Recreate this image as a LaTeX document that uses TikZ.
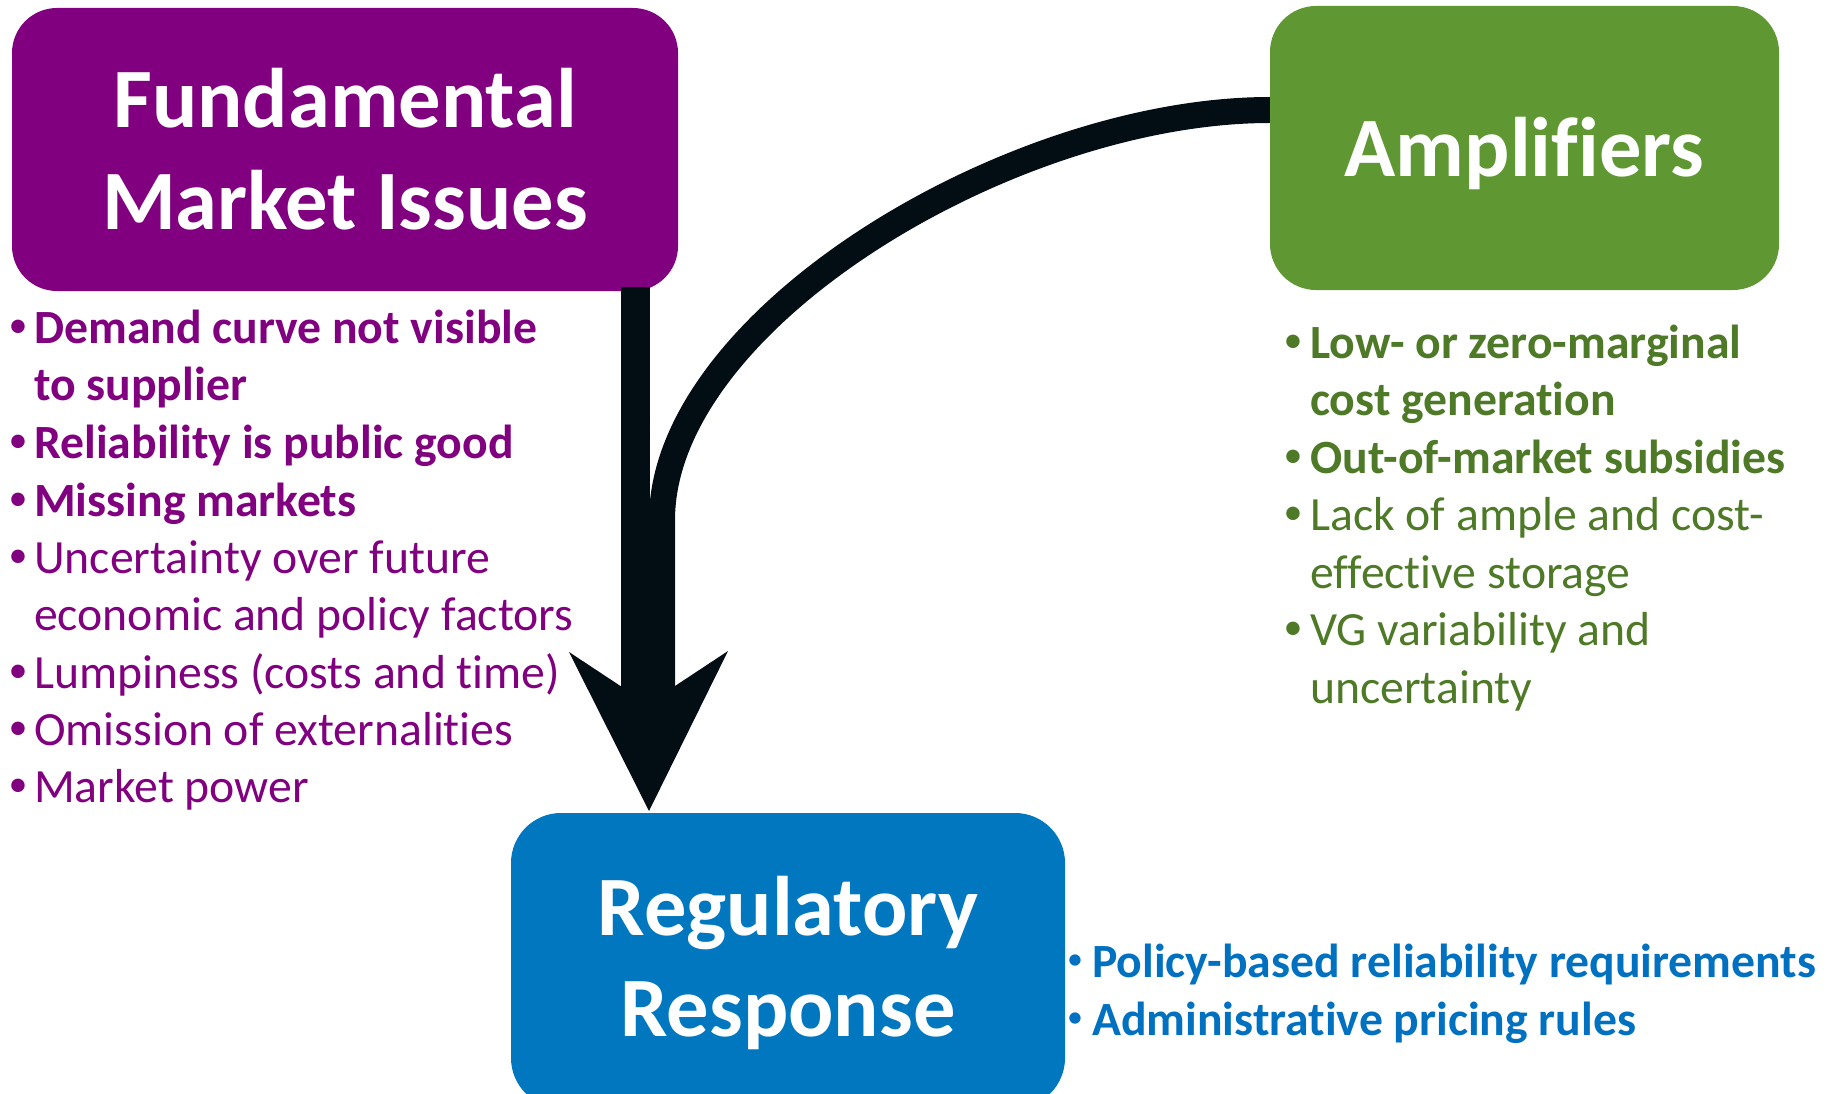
\documentclass[tikz,border=0pt]{standalone}
\usepackage{fontspec}
\setmainfont{Carlito}[Ligatures={NoCommon}]
\definecolor{fmiPurple}{HTML}{800080}
\definecolor{ampGreen}{HTML}{5F9733}
\definecolor{ampText}{HTML}{4E7A28}
\definecolor{regBlue}{HTML}{0077BE}
\definecolor{regText}{HTML}{0070C0}
\definecolor{arrowInk}{HTML}{020D14}
\begin{document}
\begin{tikzpicture}[x=1pt,y=-1pt,
  panel/.style={rectangle, rounded corners=#1, inner sep=0pt, draw=none},
  headline/.style={text=white, font=\fontsize{84.5}{101}\selectfont\bfseries, anchor=base, inner sep=0pt},
  entry/.style={font=\fontsize{47.7}{57.5}\selectfont, anchor=base west, inner sep=0pt},
  boldentry/.style={entry, font=\fontsize{47.7}{57.5}\selectfont\bfseries},
  bulletmark/.style={font=\fontsize{#1}{#1}\selectfont, anchor=base, inner sep=0pt},
  bulletmark/.default=38,
  ink/.style={draw=arrowInk, line cap=butt}
]
\useasboundingbox (0,0) rectangle (1835,1094);
\begin{scope}
\clip (0,0) rectangle (1835,1094);

% ---- the three panels ----
\node[panel=45pt, fill=fmiPurple, minimum width=666pt, minimum height=283pt] (fmi) at (345,149.5) {};
\node[panel=46pt, fill=ampGreen, minimum width=509pt, minimum height=284pt] (amp) at (1524.5,148) {};
\node[panel=50pt, fill=regBlue, minimum width=554pt, minimum height=295pt] (reg) at (788,960.5) {};

% ---- panel titles ----
\node[headline] (fmi-a) at (345,128) {Fundamental};
\node[headline] (fmi-b) at (345,229) {Market Issues};
\node[headline] (amp-a) at (1524.5,177) {Amplifiers};
\node[headline] (reg-a) at (788,935) {Regulatory};
\node[headline] (reg-b) at (788,1036) {Response};

% ---- arrows into the regulatory response ----
\coordinate (shaftTop) at (635.5,287);
\coordinate (shaftEnd) at (635.5,700);
\coordinate (curveDown) at (662,520);
\coordinate (curveEnd) at (662,700);
\coordinate (headTip) at (649,811);
\draw[ink, line width=29pt] (shaftTop) -- (shaftEnd);
\draw[ink, line width=26pt] ([yshift=38pt]amp.west)
  .. controls +(-260,0) and (662,320) .. (curveDown) -- (curveEnd);
\fill[arrowInk] (569,652) -- (622,687) -- (675,686) -- (728,651) -- (headTip) -- cycle;

% ---- fundamental market issues ----
\foreach \y in {343,458,516,573,688,745,802}
  \node[bulletmark, text=fmiPurple] at (18,\y-6) {•};
\node[boldentry, text=fmiPurple] (f1) at (34,343) {Demand curve not visible};
\node[boldentry, text=fmiPurple] (f1b) at (34,400.5) {to supplier};
\node[boldentry, text=fmiPurple] (f2) at (34,458) {Reliability is public good};
\node[boldentry, text=fmiPurple] (f3) at (34,516) {Missing markets};
\node[entry, text=fmiPurple] (f4) at (34,573) {Uncertainty over future};
\node[entry, text=fmiPurple] (f4b) at (34,630.5) {economic and policy factors};
\node[entry, text=fmiPurple] (f5) at (34,688) {Lumpiness (costs and time)};
\node[entry, text=fmiPurple] (f6) at (34,745) {Omission of externalities};
\node[entry, text=fmiPurple] (f7) at (34,802) {Market power};

% ---- amplifiers ----
\foreach \y in {358,473,530.5,645.5}
  \node[bulletmark, text=ampText] at (1293,\y-6) {•};
\node[boldentry, text=ampText] (a1) at (1310,358) {Low- or zero-marginal};
\node[boldentry, text=ampText] (a1b) at (1310,415.5) {cost generation};
\node[boldentry, text=ampText] (a2) at (1310,473) {Out-of-market subsidies};
\node[entry, text=ampText] (a3) at (1310,530.5) {Lack of ample and cost-};
\node[entry, text=ampText] (a3b) at (1310,588) {effective storage};
\node[entry, text=ampText] (a4) at (1310,645.5) {VG variability and};
\node[entry, text=ampText] (a4b) at (1310,703) {uncertainty};

% ---- regulatory response ----
\foreach \y in {977,1035}
  \node[bulletmark=32, text=regText] at (1075,\y-8) {•};
\node[boldentry, text=regText] (r1) at (1092,977) {Policy-based reliability requirements};
\node[boldentry, text=regText] (r2) at (1092,1035) {Administrative pricing rules};
\end{scope}
\end{tikzpicture}
\end{document}
